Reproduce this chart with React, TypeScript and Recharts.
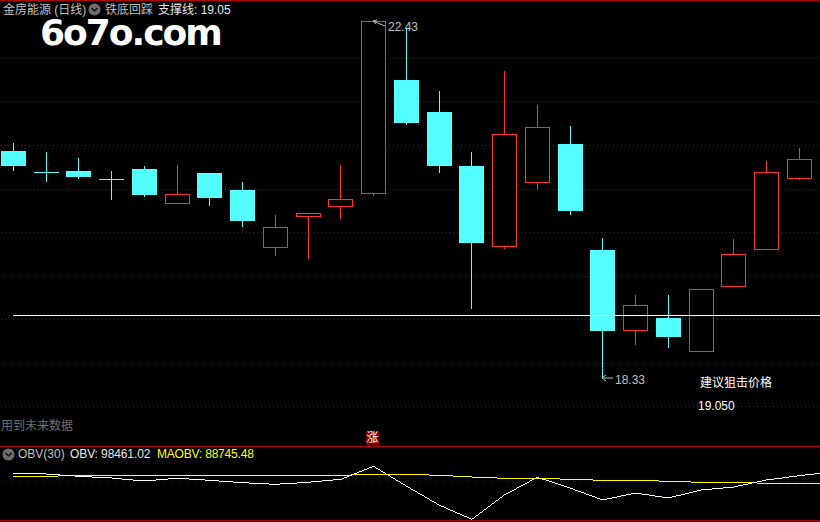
import React from 'react';
import { ComposedChart, Bar, Line, XAxis, YAxis, CartesianGrid } from 'recharts';

// 日线 K 线数据 (last slot is the next, still empty day; it is cropped by the window)
const days = ['1', '2', '3', '4', '5', '6', '7', '8', '9', '10', '11', '12', '13', '14', '15', '16', '17', '18', '19', '20', '21', '22', '23', '24', '25', '26'];
const opens = [20.94, 20.70, 20.71, 20.61, 20.73, 20.34, 20.68, 20.49, 19.83, 20.18, 20.30, 20.46, 21.75, 21.39, 20.76, 19.84, 20.58, 21.02, 19.80, 18.88, 19.02, 18.64, 19.38, 19.80, 20.62, null];
const closes = [20.76, 20.70, 20.64, 20.61, 20.43, 20.44, 20.40, 20.13, 20.06, 20.22, 20.38, 22.43, 21.26, 20.76, 19.88, 21.13, 21.21, 20.25, 18.87, 19.17, 18.80, 19.35, 19.75, 20.69, 20.84, null];
const highs = [21.03, 20.93, 20.86, 20.71, 20.76, 20.78, 20.68, 20.58, 20.20, 20.22, 20.78, 22.43, 22.35, 21.63, 20.93, 21.86, 21.47, 21.22, 19.94, 19.28, 19.28, 19.35, 19.93, 20.82, 20.97, null];
const lows = [20.71, 20.58, 20.61, 20.37, 20.41, 20.34, 20.30, 20.06, 19.73, 19.70, 20.16, 20.42, 21.24, 20.68, 19.12, 19.81, 20.50, 20.20, 18.33, 18.71, 18.67, 18.64, 19.38, 19.80, 20.60, null];
const supportPrice = 19.05;
const priceGrid = [22, 21.5, 21, 20.5, 20, 19.5, 19, 18.5, 18];

const obv = [101910, 100630, 97690, 95520, 91690, 95140, 92580, 89520, 87470, 90030, 93860, 110470, 85300, 61020, 42740, 73800, 96420, 82740, 67410, 76350, 69960, 80190, 84020, 92970, 98461.02, 103320];
const maobv = [97690, 97690, 98720, 98970, 98970, 98970, 98970, 98970, 98970, 98970, 98970, 100120, 100250, 98970, 96800, 95140, 95140, 93860, 92580, 92580, 91300, 90030, 90030, 88745.48, 88745.48, 88600];
const obvGrid = [91300];

const RED = '#ff3232';
const CYAN = '#54ffff';
const GRAY = '#c0c0c0';
const GRID_RED = '#b00000';
const UI_FONT = '"Liberation Sans", "Noto Sans CJK SC", sans-serif';

const priceData = days.map((day, i) => ({
  day,
  open: opens[i],
  close: closes[i],
  high: highs[i],
  low: lows[i],
  support: supportPrice,
}));
const obvData = days.map((day, i) => ({ day, obv: obv[i], maobv: maobv[i] }));

const maxHigh = Math.max(...highs.filter((v) => v !== null));
const minLow = Math.min(...lows.filter((v) => v !== null));

const Candle = (props: any) => {
  const { x, y, height, payload } = props;
  const { open, close, high, low } = payload;
  if (high === null) return null;
  const unit = height / (high - low);
  const yOf = (p: number) => y + (high - p) * unit;
  const left = Math.round(x);
  const cx = left + 12;
  const up = close > open;
  const color = up ? RED : CYAN;
  const bodyTop = yOf(Math.max(open, close));
  const bodyBottom = yOf(Math.min(open, close));
  return (
    <g shapeRendering="crispEdges">
      <rect x={cx} y={y} width={1} height={height} fill={color} />
      {up ? (
        <rect x={left + 0.5} y={Math.round(bodyTop) + 0.5} width={24} height={Math.round(bodyBottom - bodyTop)} fill="#000" stroke={color} />
      ) : (
        <rect x={left} y={bodyTop} width={25} height={Math.max(1, bodyBottom - bodyTop)} fill={color} />
      )}
      {high === maxHigh && (
        <g shapeRendering="auto">
          <path d={`M${cx} ${y} L${cx + 12} ${y + 5} M${cx} ${y} l4 -1 M${cx} ${y} l3 3`} stroke={GRAY} fill="none" />
          <text x={cx + 15} y={y + 10} fill={GRAY} fontSize={12} fontFamily={UI_FONT}>{high.toFixed(2)}</text>
        </g>
      )}
      {low === minLow && (
        <g shapeRendering="auto">
          <path d={`M${cx} ${y + height} h11 M${cx} ${y + height} l4 -3 M${cx} ${y + height} l4 3`} stroke={GRAY} fill="none" />
          <text x={cx + 13} y={y + height + 6} fill={GRAY} fontSize={12} fontFamily={UI_FONT}>{low.toFixed(2)}</text>
        </g>
      )}
    </g>
  );
};

const Label = ({ x, y, color = GRAY, size = 12, children, style }: any) => (
  <span
    style={{
      position: 'absolute',
      left: x,
      top: y,
      color,
      fontSize: size,
      lineHeight: '14px',
      whiteSpace: 'nowrap',
      fontFamily: UI_FONT,
      ...style,
    }}
  >
    {children}
  </span>
);

const Chevron = ({ x, y }: { x: number; y: number }) => (
  <svg style={{ position: 'absolute', left: x, top: y }} width={13} height={13}>
    <circle cx={6.5} cy={6.5} r={6} fill="#6e6e6e" />
    <path d="M3.5 5 L6.5 8 L9.5 5" stroke="#111" strokeWidth={1.5} fill="none" />
  </svg>
);

const HLine = ({ y, color = '#b00000' }: { y: number; color?: string }) => (
  <div style={{ position: 'absolute', left: 0, top: y, width: 820, height: 1, background: color }} />
);

export default function App() {
  return (
    <div style={{ position: 'absolute', left: 0, top: 0, width: 820, height: 522, background: '#000', overflow: 'hidden' }}>
      {/* 主图 */}
      <div style={{ position: 'absolute', left: 0, top: 0 }}>
        <ComposedChart width={848.4} height={446} data={priceData} margin={{ top: 0, right: 0, bottom: 0, left: -3.1 }} barCategoryGap={0}>
          <XAxis dataKey="day" hide />
          <YAxis hide domain={[17.549, 22.671]} allowDataOverflow />
          <CartesianGrid vertical={false} stroke={GRID_RED} strokeDasharray="1 3" horizontalValues={priceGrid} shapeRendering="crispEdges" />
          <Bar dataKey={(d: any) => (d.high === null ? null : [d.low, d.high])} barSize={25} shape={<Candle />} isAnimationActive={false} />
          <Line dataKey="support" stroke="#fff" strokeWidth={1} dot={false} activeDot={false} isAnimationActive={false} shapeRendering="crispEdges" />
        </ComposedChart>
      </div>

      {/* 副图 OBV */}
      <div style={{ position: 'absolute', left: 0, top: 447 }}>
        <ComposedChart width={848.4} height={73} data={obvData} margin={{ top: 0, right: 0, bottom: 0, left: -3.1 }}>
          <XAxis dataKey="day" hide scale="band" />
          <YAxis hide domain={[41845, 135140]} allowDataOverflow />
          <CartesianGrid vertical={false} stroke="#800000" strokeDasharray="1 3" horizontalValues={obvGrid} shapeRendering="crispEdges" />
          <Line dataKey="maobv" stroke="#ffff00" strokeWidth={1} dot={false} activeDot={false} isAnimationActive={false} shapeRendering="crispEdges" />
          <Line dataKey="obv" stroke="#fff" strokeWidth={1} dot={false} activeDot={false} isAnimationActive={false} shapeRendering="crispEdges" />
        </ComposedChart>
      </div>

      <HLine y={0} />
      <HLine y={446} />
      <HLine y={520} />

      <Label x={3} y={3}>金房能源 (日线)</Label>
      <Chevron x={88} y={3} />
      <Label x={105} y={3}>铁底回踩</Label>
      <Label x={158} y={3} color="#e8e8e8">支撑线: 19.05</Label>
      <Label x={40} y={18} color="#fff" size={36} style={{ fontFamily: '"DejaVu Sans"', fontWeight: 700, lineHeight: '30px', letterSpacing: -2 }}>6o7o.com</Label>

      <Label x={1} y={419} color="#707070">用到未来数据</Label>
      <div style={{ position: 'absolute', left: 366, top: 432, width: 13, height: 13, background: '#800000', color: '#fff', fontSize: 12, lineHeight: '13px', textAlign: 'center', fontFamily: UI_FONT }}>涨</div>
      <Label x={700} y={376} color="#fff">建议狙击价格</Label>
      <Label x={698} y={399} color="#fff">19.050</Label>

      <Chevron x={2} y={448} />
      <Label x={18} y={447}>OBV(30)</Label>
      <Label x={70} y={447} color="#e8e8e8" style={{ letterSpacing: -0.1 }}>OBV: 98461.02</Label>
      <Label x={157} y={447} color="#ffff00" style={{ letterSpacing: -0.2 }}>MAOBV: 88745.48</Label>
    </div>
  );
}
